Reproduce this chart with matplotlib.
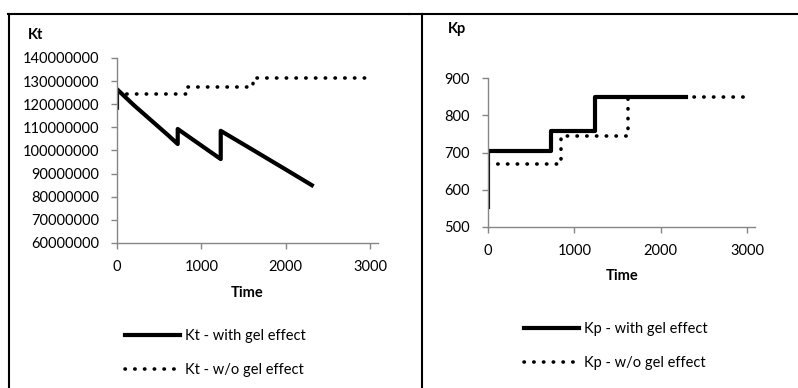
import matplotlib
matplotlib.use("Agg")
import matplotlib.pyplot as plt
from matplotlib.lines import Line2D

plt.rcParams['font.family'] = ['Lato', 'DejaVu Sans']

# Kt data
kt_time_gel = [0, 0, 200, 400, 600, 720, 720, 900, 1100, 1230, 1230, 1600, 2000, 2310]
kt_gel = [118.5e6, 126.5e6, 119.6e6, 113.2e6, 106.8e6, 102.8e6, 109.3e6,
          104.7e6, 99.6e6, 96.3e6, 108.5e6, 100.5e6, 91.8e6, 85.0e6]
kt_time_nogel = [0, 830, 830, 1615, 1615, 3040]
kt_nogel = [124.5e6, 124.5e6, 127.5e6, 127.5e6, 131.5e6, 131.5e6]

# Kp data
kp_time_gel = [0, 0, 728, 728, 1237, 1237, 2290]
kp_gel = [553, 705, 705, 757, 757, 849, 849]
kp_time_nogel = [0, 845, 845, 1620, 1620, 3005]
kp_nogel = [670, 670, 743, 743, 848, 848]

kt_ticks = [60000000, 70000000, 80000000, 90000000, 100000000,
            110000000, 120000000, 130000000, 140000000]
kp_ticks = [500, 600, 700, 800, 900]
time_ticks = [0, 1000, 2000, 3000]

W, H = 798, 388
fig = plt.figure(figsize=(W / 100, H / 100), dpi=100)

def fx(px):
    return px / W

def fy(py):
    return 1 - py / H

dot_style = dict(color='black', lw=2.6, linestyle=(0, (0.1, 2.6)), dash_capstyle='round')
solid_style = dict(color='black', lw=3.0)
fs = 10.5
axis_grey = '#868686'

def style_axes(ax):
    for s in ['top', 'right']:
        ax.spines[s].set_visible(False)
    for s in ['left', 'bottom']:
        ax.spines[s].set_color(axis_grey)
        ax.spines[s].set_linewidth(1.0)
    ax.tick_params(axis='both', direction='out', length=4, width=1.0, color=axis_grey,
                   labelsize=fs, labelcolor='black')
    ax.tick_params(axis='y', pad=9)
    ax.tick_params(axis='x', pad=8)

# left panel
ax1 = fig.add_axes([fx(117), fy(243), fx(378 - 117), (243 - 58) / H])
ax1.plot(kt_time_nogel, kt_nogel, label='Kt - w/o gel effect', **dot_style)
ax1.plot(kt_time_gel, kt_gel, label='Kt - with gel effect', **solid_style)
ax1.set_xlim(0, 3095)
ax1.set_ylim(60e6, 140e6)
ax1.set_yticks(kt_ticks)
ax1.set_yticklabels([str(v) for v in kt_ticks])
ax1.set_xticks(time_ticks)
style_axes(ax1)
fig.text(fx(247), fy(293), 'Time', ha='center', va='center', fontsize=fs, fontweight='bold')
fig.text(fx(28), fy(35), 'Kt', ha='left', va='center', fontsize=fs, fontweight='bold')
h, l = ax1.get_legend_handles_labels()
fig.legend(h[::-1], l[::-1], loc='upper left', bbox_to_anchor=(fx(125), fy(329)),
           frameon=False, fontsize=fs, handlelength=3.8, handletextpad=0.3,
           labelspacing=1.4, borderpad=0, borderaxespad=0)

# right panel
ax2 = fig.add_axes([fx(488), fy(227), fx(755 - 488), (227 - 78) / H])
ax2.plot(kp_time_nogel, kp_nogel, label='Kp - w/o gel effect', **dot_style)
ax2.plot(kp_time_gel, kp_gel, label='Kp - with gel effect', **solid_style)
ax2.set_xlim(0, 3090)
ax2.set_ylim(500, 900)
ax2.set_yticks(kp_ticks)
ax2.set_xticks(time_ticks)
style_axes(ax2)
fig.text(fx(622), fy(276), 'Time', ha='center', va='center', fontsize=fs, fontweight='bold')
fig.text(fx(448), fy(29), 'Kp', ha='left', va='center', fontsize=fs, fontweight='bold')
h, l = ax2.get_legend_handles_labels()
fig.legend(h[::-1], l[::-1], loc='upper left', bbox_to_anchor=(fx(524), fy(322)),
           frameon=False, fontsize=fs, handlelength=3.8, handletextpad=0.3,
           labelspacing=1.4, borderpad=0, borderaxespad=0)

# table cell borders
border = dict(color='black', lw=1.5, transform=fig.transFigure)
fig.add_artist(Line2D([fx(8), fx(409)], [fy(13.5), fy(13.5)], **border))
fig.add_artist(Line2D([fx(409), fx(798)], [fy(14), fy(14)], **border))
fig.add_artist(Line2D([fx(9), fx(9)], [fy(13.5), fy(388)], **border))
fig.add_artist(Line2D([fx(422), fx(422)], [fy(14), fy(388)], **border))

fig.savefig('out.png', dpi=100)
